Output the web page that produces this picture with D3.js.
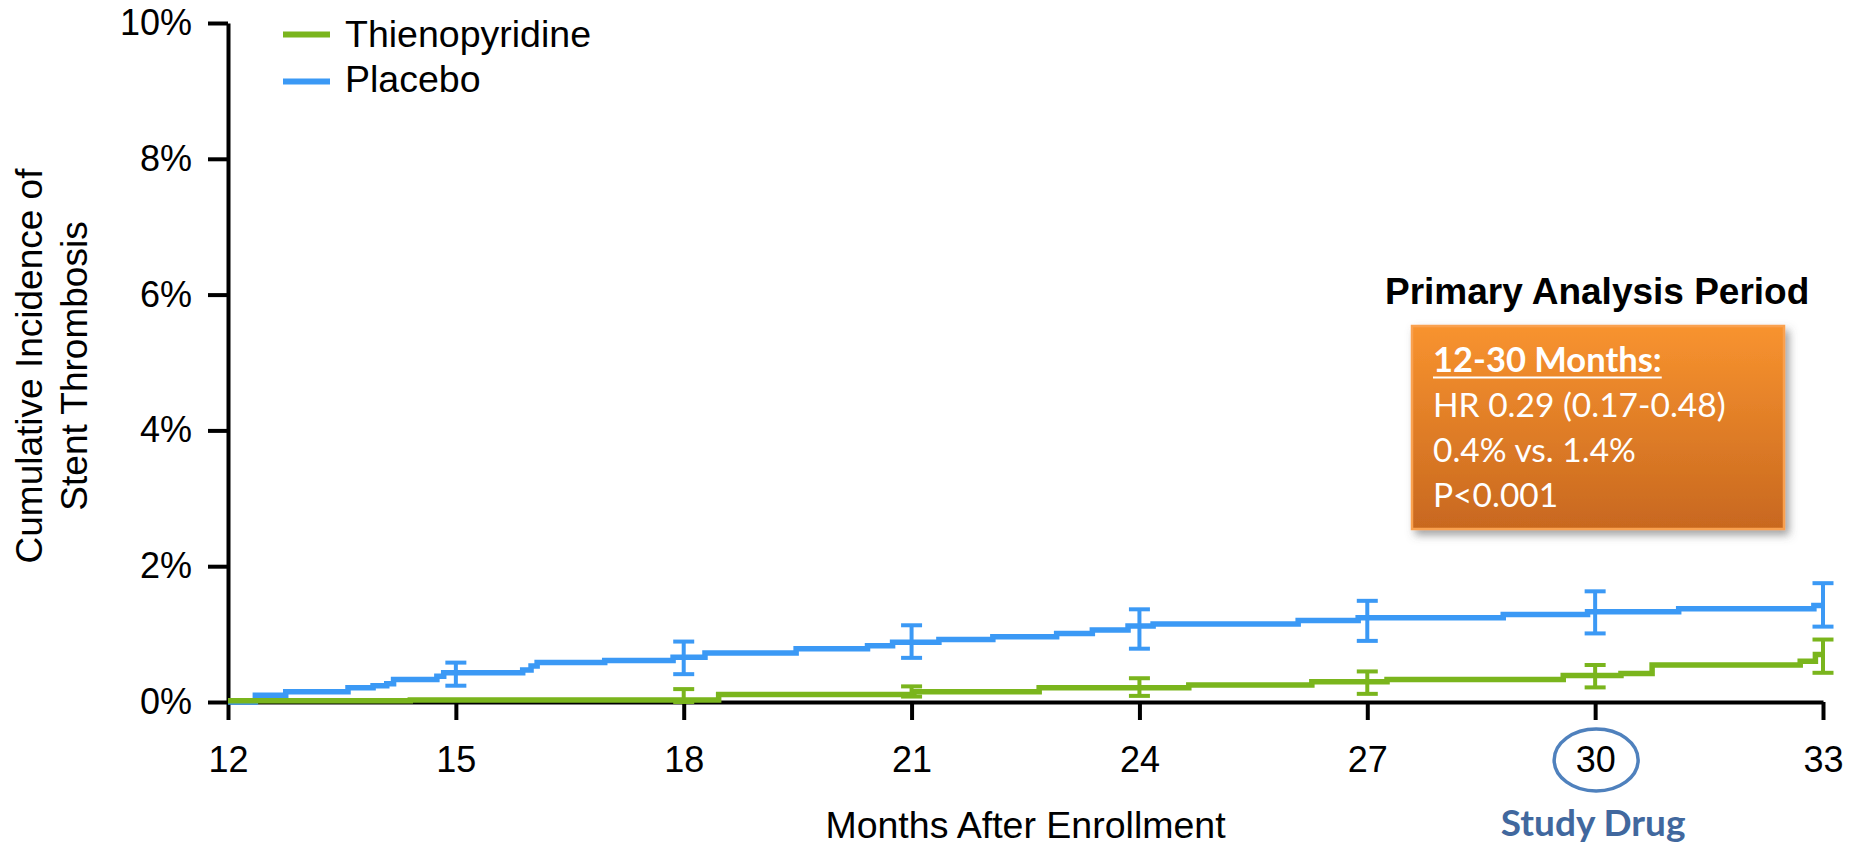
<!DOCTYPE html>
<html>
<head>
<meta charset="utf-8">
<script src="https://cdn.jsdelivr.net/npm/d3@7/dist/d3.min.js"></script>
<style>
  html, body { margin: 0; padding: 0; background: #fff; }
  svg { display: block; }
</style>
</head>
<body>
<svg id="chart" width="1856" height="847"></svg>
<script>
// ---------- DATA ----------
const xTicks = [12, 15, 18, 21, 24, 27, 30, 33];
const yTicks = [0, 2, 4, 6, 8, 10];

const seriesNames = ["Thienopyridine", "Placebo"];

// Placebo step curve (month, cumulative %)
const placeboMonths = [12, 12.36, 12.76, 13.58, 13.91, 14.09, 14.18, 14.75, 14.84, 15.88, 15.99, 16.07, 16.96, 17.86, 18.28, 19.48, 20.42, 20.75, 21.36, 22.07, 22.91, 23.38, 23.85, 24.18, 26.09, 26.88, 28.79, 29.9, 31.1, 32.88, 33];
const placeboValues = [0, 0.10, 0.15, 0.21, 0.24, 0.27, 0.33, 0.38, 0.43, 0.47, 0.53, 0.58, 0.61, 0.66, 0.72, 0.785, 0.83, 0.88, 0.92, 0.96, 1.01, 1.06, 1.12, 1.15, 1.20, 1.24, 1.29, 1.33, 1.375, 1.42, 1.42];

// Thienopyridine step curve
const thienoMonths = [12, 14.4, 18.46, 21.03, 22.68, 24.65, 26.27, 27.26, 29.58, 30.34, 30.75, 32.7, 32.9, 33];
const thienoValues = [0.02, 0.03, 0.11, 0.15, 0.21, 0.25, 0.30, 0.33, 0.39, 0.42, 0.545, 0.60, 0.70, 0.70];

// Confidence interval bars
const placeboErrMonths = [15, 18, 21, 24, 27, 30, 33];
const placeboLo = [0.24, 0.41, 0.65, 0.785, 0.90, 1.01, 1.11];
const placeboHi = [0.58, 0.89, 1.13, 1.365, 1.49, 1.63, 1.75];

const thienoErrMonths = [18, 21, 24, 27, 30, 33];
const thienoLo = [0.0, 0.08, 0.09, 0.12, 0.215, 0.43];
const thienoHi = [0.19, 0.23, 0.35, 0.45, 0.545, 0.92];

const boxTitle = "Primary Analysis Period";
const boxLines = ["12-30 Months:", "HR 0.29 (0.17-0.48)", "0.4% vs. 1.4%", "P<0.001"];

// ---------- STYLE ----------
const GREEN = "#7AB51D";
const BLUE = "#3B99F5";
const ARIAL = "Arial, 'Liberation Sans', sans-serif";
const CAL = "Lato, 'Open Sans', sans-serif";

const svg = d3.select("#chart");

const x = d3.scaleLinear().domain([12, 33]).range([228, 1823]);
const y = d3.scaleLinear().domain([0, 10]).range([702, 23]);

const defs = svg.append("defs");
const grad = defs.append("linearGradient").attr("id", "boxGrad")
  .attr("x1", 0).attr("y1", 0).attr("x2", 0).attr("y2", 1);
grad.append("stop").attr("offset", "0%").attr("stop-color", "#F8932F");
grad.append("stop").attr("offset", "100%").attr("stop-color", "#C8681F");
const filt = defs.append("filter").attr("id", "shadow")
  .attr("x", "-10%").attr("y", "-10%").attr("width", "130%").attr("height", "130%");
filt.append("feDropShadow").attr("dx", 4).attr("dy", 5).attr("stdDeviation", 4)
  .attr("flood-color", "#555").attr("flood-opacity", 0.55);

// X axis
const xAxis = svg.append("g").attr("transform", "translate(0,702)")
  .call(d3.axisBottom(x).tickValues(xTicks).tickSize(18).tickSizeOuter(0).tickPadding(26));
// Y axis
const yAxis = svg.append("g").attr("transform", "translate(228,0)")
  .call(d3.axisLeft(y).tickValues(yTicks).tickFormat(d => d + "%").tickSize(20).tickSizeOuter(0).tickPadding(16));

[xAxis, yAxis].forEach(g => {
  g.select(".domain").attr("stroke", "#000").attr("stroke-width", 4);
  g.selectAll(".tick line").attr("stroke", "#000").attr("stroke-width", 4);
  g.selectAll(".tick text").attr("fill", "#000")
    .style("font-family", ARIAL).style("font-size", "36px");
});

// Lines
const line = d3.line().x(d => x(d.m)).y(d => y(d.v)).curve(d3.curveStepAfter);
const placebo = placeboMonths.map((m, i) => ({ m, v: placeboValues[i] }));
const thieno = thienoMonths.map((m, i) => ({ m, v: thienoValues[i] }));

function drawErr(months, lo, hi, color) {
  const g = svg.append("g").attr("stroke", color).attr("stroke-width", 4).attr("fill", "none");
  months.forEach((m, i) => {
    const cx = x(m);
    g.append("line").attr("x1", cx).attr("x2", cx).attr("y1", y(lo[i])).attr("y2", y(hi[i]));
    g.append("line").attr("x1", cx - 10.5).attr("x2", cx + 10.5).attr("y1", y(lo[i])).attr("y2", y(lo[i]));
    g.append("line").attr("x1", cx - 10.5).attr("x2", cx + 10.5).attr("y1", y(hi[i])).attr("y2", y(hi[i]));
  });
}

svg.append("path").datum(placebo).attr("d", line)
  .attr("fill", "none").attr("stroke", BLUE).attr("stroke-width", 5.5);
drawErr(placeboErrMonths, placeboLo, placeboHi, BLUE);
svg.append("path").datum(thieno).attr("d", line)
  .attr("fill", "none").attr("stroke", GREEN).attr("stroke-width", 5.5);
drawErr(thienoErrMonths, thienoLo, thienoHi, GREEN);

// Legend
const legColors = [GREEN, BLUE];
seriesNames.forEach((name, i) => {
  const ly = 34.5 + i * 47;
  svg.append("line").attr("x1", 283).attr("x2", 330).attr("y1", ly).attr("y2", ly)
    .attr("stroke", legColors[i]).attr("stroke-width", 6);
  svg.append("text").attr("x", 345).attr("y", 46.7 + i * 45)
    .style("font-family", ARIAL).style("font-size", "37.5px")
    .attr("fill", "#000").text(name);
});

// Axis titles
const yTitle = ["Cumulative Incidence of", "Stent Thrombosis"];
yTitle.forEach((t, i) => {
  svg.append("text").attr("transform", `translate(${42 + i * 45},366) rotate(-90)`)
    .attr("text-anchor", "middle")
    .style("font-family", ARIAL).style("font-size", "37px")
    .attr("fill", "#000").text(t);
});
svg.append("text").attr("x", (x(12) + x(33)) / 2).attr("y", 838).attr("text-anchor", "middle")
  .style("font-family", ARIAL).style("font-size", "37.5px")
  .attr("fill", "#000").text("Months After Enrollment");

// Study drug annotation
svg.append("ellipse").attr("cx", x(30) + 1).attr("cy", 760).attr("rx", 42).attr("ry", 31)
  .attr("fill", "none").attr("stroke", "#4F81BD").attr("stroke-width", 3.5);
svg.append("text").attr("x", x(30) - 2).attr("y", 836).attr("text-anchor", "middle")
  .style("font-family", CAL).style("font-size", "37px").style("font-weight", "bold")
  .attr("fill", "#41689E").text("Study Drug");

// Primary analysis box
svg.append("text").attr("x", 1385).attr("y", 304)
  .style("font-family", ARIAL).style("font-size", "37px").style("font-weight", "bold")
  .attr("fill", "#000").text(boxTitle);
svg.append("rect").attr("x", 1412).attr("y", 326).attr("width", 372).attr("height", 203)
  .attr("fill", "url(#boxGrad)").attr("stroke", "#F9A150").attr("stroke-width", 2.5)
  .attr("filter", "url(#shadow)");
const baselines = [371.7, 416.7, 461.7, 507.3];
boxLines.forEach((t, i) => {
  const tx = svg.append("text").attr("x", 1433).attr("y", baselines[i])
    .style("font-family", CAL).style("font-size", i === 0 ? "34.5px" : "33.5px")
    .style("font-weight", i === 0 ? "bold" : "normal")
    .attr("fill", "#fff").text(t);
  if (i === 0) {
    const w = tx.node().getComputedTextLength();
    svg.append("line").attr("x1", 1433).attr("x2", 1433 + w).attr("y1", 377.5).attr("y2", 377.5)
      .attr("stroke", "#fff").attr("stroke-width", 2.2);
  }
});
</script>
</body>
</html>
